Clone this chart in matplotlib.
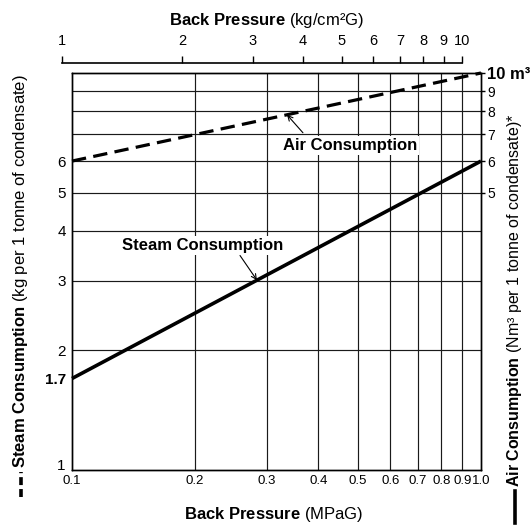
import numpy as np
import matplotlib
matplotlib.use('Agg')
import matplotlib.pyplot as plt
import matplotlib.transforms as mtransforms
from matplotlib.lines import Line2D
from matplotlib.ticker import FixedLocator, NullLocator, NullFormatter, FixedFormatter

# ---------------- data ----------------
pressure_mpa = [0.1, 1.0]
air_consumption = [6.0, 10.0]      # dashed line (annotated "Air Consumption")
steam_consumption = [1.7, 6.0]     # solid line (annotated "Steam Consumption")

bottom_ticks = [0.1, 0.2, 0.3, 0.4, 0.5, 0.6, 0.7, 0.8, 0.9, 1.0]
bottom_labels = ['0.1', '0.2', '0.3', '0.4', '0.5', '0.6', '0.7', '0.8', '0.9', '1.0']
top_ticks = [1, 2, 3, 4, 5, 6, 7, 8, 9, 10]
top_labels = ['1', '2', '3', '4', '5', '6', '7', '8', '9', '10']
left_ticks = [1, 1.7, 2, 3, 4, 5, 6]
left_labels = ['1', '1.7', '2', '3', '4', '5', '6']
right_ticks = [5, 6, 7, 8, 9, 10]
right_labels = ['5', '6', '7', '8', '9', '10 m³']
grid_x = [0.2, 0.3, 0.4, 0.5, 0.6, 0.7, 0.8, 0.9]
grid_y = [2, 3, 4, 5, 6, 7, 8, 9]

# ---------------- style ----------------
plt.rcParams['font.family'] = ['Liberation Sans', 'DejaVu Sans']
plt.rcParams['mathtext.fontset'] = 'custom'
plt.rcParams['mathtext.bf'] = 'Liberation Sans:bold'
plt.rcParams['mathtext.rm'] = 'Liberation Sans'
plt.rcParams['mathtext.it'] = 'Liberation Sans:italic'

W, H = 532, 527
fig = plt.figure(figsize=(W / 100, H / 100), dpi=100)
fig.patch.set_facecolor('white')


def fx(px):
    return px / W


def fy(py):
    return 1 - py / H


ax = fig.add_axes([fx(72), fy(470), fx(481) - fx(72), fy(73) - fy(470)])
ax.set_xscale('log')
ax.set_yscale('log')
ax.set_xlim(0.1, 1.0)
ax.set_ylim(1, 10)

# grid through minor ticks (keep those that coincide with labelled ticks)
ax.xaxis.remove_overlapping_locs = False
ax.yaxis.remove_overlapping_locs = False
ax.xaxis.set_minor_locator(FixedLocator(grid_x))
ax.yaxis.set_minor_locator(FixedLocator(grid_y))
ax.xaxis.set_minor_formatter(NullFormatter())
ax.yaxis.set_minor_formatter(NullFormatter())
ax.grid(which='minor', color='#1a1a1a', lw=0.85)
ax.grid(which='major', visible=False)

ax.xaxis.set_major_locator(FixedLocator(bottom_ticks))
ax.xaxis.set_major_formatter(FixedFormatter(bottom_labels))
ax.yaxis.set_major_locator(FixedLocator(left_ticks))
ax.yaxis.set_major_formatter(FixedFormatter(left_labels))
ax.tick_params(which='minor', length=0)
ax.tick_params(axis='x', which='major', length=0, pad=3.5, labelsize=9.5)
ax.tick_params(axis='y', which='major', length=0, pad=4.5, labelsize=11)
for lab in ax.get_yticklabels():
    lab.set_fontweight('bold' if lab.get_text() == '1.7' else 'normal')
    if lab.get_text() == '1':
        lab.set_transform(lab.get_transform() +
                          mtransforms.ScaledTranslation(0, 5 / 100, fig.dpi_scale_trans))
for s in ax.spines.values():
    s.set_linewidth(1.0)
    s.set_color('black')

# lines
ax.plot(pressure_mpa, air_consumption, color='black', lw=2.3,
        linestyle=(0, (4.5, 2.3)), dash_capstyle='butt', clip_on=False, zorder=5)
ax.plot(pressure_mpa, steam_consumption, color='black', lw=2.6,
        solid_capstyle='butt', clip_on=False, zorder=5)


def on_line(xs, ys, x):
    return 10 ** np.interp(np.log10(x), np.log10(xs), np.log10(ys))


# annotations
ax.text(0.478, 6.55, 'Air Consumption', fontsize=12, fontweight='bold',
        ha='center', va='center', zorder=6,
        bbox=dict(fc='white', ec='none', pad=1.5))
tip_x = 0.3355
ax.annotate('', xy=(tip_x, on_line(pressure_mpa, air_consumption, tip_x)),
            xytext=(0.367, 7.07),
            arrowprops=dict(arrowstyle='->', lw=0.8, color='black',
                            shrinkA=0, shrinkB=0, mutation_scale=9), zorder=6)

ax.text(0.209, 3.675, 'Steam Consumption', fontsize=12, fontweight='bold',
        ha='center', va='center', zorder=6,
        bbox=dict(fc='white', ec='none', pad=1.5))
tip_x2 = 0.2833
ax.annotate('', xy=(tip_x2, on_line(pressure_mpa, steam_consumption, tip_x2)),
            xytext=(0.2575, 3.47),
            arrowprops=dict(arrowstyle='->', lw=0.8, color='black',
                            shrinkA=0, shrinkB=0, mutation_scale=9), zorder=6)

# right axis
ax2 = ax.twinx()
ax2.set_yscale('log')
ax2.set_ylim(1, 10)
ax2.yaxis.set_major_locator(FixedLocator(right_ticks))
ax2.yaxis.set_major_formatter(FixedFormatter(right_labels))
ax2.yaxis.set_minor_locator(NullLocator())
ax2.tick_params(axis='y', which='major', length=3, width=1, pad=1.5, labelsize=10)
for lab in ax2.get_yticklabels():
    if lab.get_text().startswith('10'):
        lab.set_fontweight('bold')
        lab.set_fontsize(12)
for s in ax2.spines.values():
    s.set_linewidth(1.0)

# top axis (kg/cm2G)
axt = fig.add_axes([fx(62), fy(63), fx(462) - fx(62), 0.0001])
axt.set_xscale('log')
axt.set_xlim(1, 10)
axt.set_yticks([])
for s in ['left', 'right', 'bottom']:
    axt.spines[s].set_visible(False)
axt.spines['top'].set_linewidth(1.2)
axt.patch.set_visible(False)
axt.xaxis.set_ticks_position('top')
axt.xaxis.set_major_locator(FixedLocator(top_ticks))
axt.xaxis.set_major_formatter(FixedFormatter(top_labels))
axt.xaxis.set_minor_locator(NullLocator())
axt.tick_params(axis='x', which='major', direction='out', length=5, width=1,
                pad=6, labelsize=10.5)

# axis titles
fig.text(fx(267), fy(20), r'$\mathbf{Back\ Pressure}$ (kg/cm²G)',
         ha='center', va='center', fontsize=12)
fig.text(fx(274), fy(515), r'$\mathbf{Back\ Pressure}$ (MPaG)',
         ha='center', va='center', fontsize=12)

fig.text(fx(21), fy(468), r'$\mathbf{Steam\ Consumption}$ (kg per 1 tonne of condensate)',
         rotation=90, ha='center', va='bottom', fontsize=12)
fig.add_artist(Line2D([fx(21), fx(21)], [fy(497), fy(472)], transform=fig.transFigure,
                      color='black', lw=2.6, linestyle=(0, (2.2, 1.1))))

fig.text(fx(515), fy(487), r'$\mathbf{Air\ Consumption}$ (Nm³ per 1 tonne of condensate)*',
         rotation=90, ha='center', va='bottom', fontsize=11.5)
fig.add_artist(Line2D([fx(515), fx(515)], [fy(523), fy(491)], transform=fig.transFigure,
                      color='black', lw=2.6))

fig.savefig('out.png', dpi=100, facecolor='white')
